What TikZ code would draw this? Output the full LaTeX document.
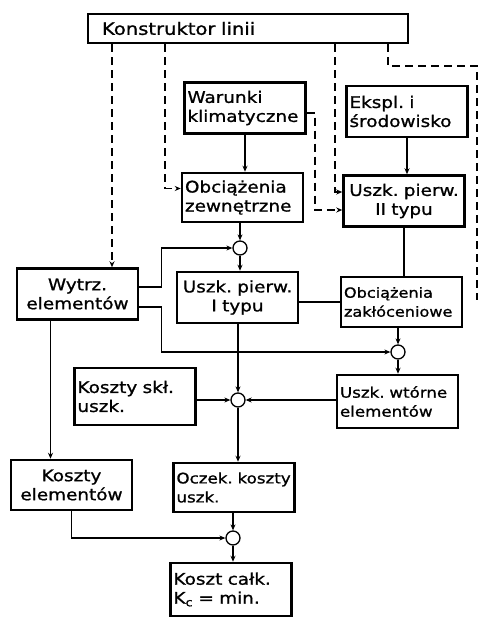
\documentclass[tikz,border=0pt]{standalone}
\usepackage{fontspec}
\setmainfont[FakeStretch=1.15, FakeBold=1]{DejaVu Sans}
\frenchspacing
\usetikzlibrary{arrows.meta}
\tikzset{
  blok/.style={draw, line width=2.5pt, inner sep=3pt, text width=115pt, minimum height=51pt, align=left, font=\fontsize{16}{19}\selectfont},
  kolo/.style={draw, circle, fill=white, line width=1.3pt, minimum size=14pt, inner sep=0pt},
  pol/.style={line width=1.3pt},
  przer/.style={line width=1.7pt, dash pattern=on 8pt off 5pt},
}

\begin{document}
\begin{tikzpicture}[x=1pt, y=-1pt, >={Stealth[length=6pt,width=5pt]}]
\useasboundingbox (0,0) rectangle (479,620);
\node[blok, text width=292pt, inner xsep=14pt, minimum height=29pt, font=\fontsize{17}{20}\selectfont] (konst) at (248,28.5) {Konstruktor linii};
\node[blok] (warunki) at (245,108) {Warunki\\klimatyczne};
\node[blok] (ekspl) at (407,111.5) {Ekspl. i\\środowisko};
\node[blok, minimum height=49pt] (obcz) at (242.5,197.5) {Obciążenia\\zewnętrzne};
\node[blok, align=center] (uszk2) at (404,201) {Uszk. pierw.\\II typu};
\node[blok, align=center] (wytrz) at (77.5,294) {Wytrz.\\elementów};
\node[blok, align=center] (uszk1) at (237.5,297.5) {Uszk. pierw.\\I typu};
\node[blok, minimum height=50pt, font=\fontsize{14}{19}\selectfont] (obzak) at (401.5,302) {Obciążenia\\zakłóceniowe};
\node[blok, minimum height=53pt, font=\fontsize{14.5}{19}\selectfont] (uwt) at (397.5,401.5) {Uszk. wtórne\\elementów};
\node[blok, minimum height=57pt] (kskl) at (135,396.5) {Koszty skł.\\uszk.};
\node[blok, align=center, minimum height=50pt] (kel) at (71.5,485) {Koszty\\elementów};
\node[blok, minimum height=49pt, font=\fontsize{14.5}{19}\selectfont] (oczek) at (234,487.5) {Oczek. koszty\\uszk.};
\node[blok, minimum height=53pt] (kcalk) at (231,589.5) {Koszt całk.\\K\textsubscript{c} = min.};
\node[kolo] (c1) at (240,248) {};
\node[kolo] (c2) at (398,352) {};
\node[kolo] (c3) at (238,400) {};
\node[kolo] (c4) at (233,538) {};
\coordinate (kA) at (112,0);
\coordinate (kB) at (165,0);
\coordinate (kC) at (335,0);
\coordinate (kD) at (388,0);
\coordinate (kE) at (477,66);
\coordinate (kF) at (315,210);
\coordinate (kG) at (477,300);
\draw[przer,->] (konst.south -| kA) -- (wytrz.north -| kA);
\draw[przer,->] (konst.south -| kB) |- ([yshift=9pt]obcz.west);
\draw[przer,->] (konst.south -| kC) |- ([yshift=9pt]uszk2.west);
\draw[przer,->] ([yshift=-5pt]warunki.east) -| (kF) -- (kF -| uszk2.west);
\draw[przer] (konst.south -| kD) |- (kE) -- (kG);
\draw[pol,->] (warunki.south) -- (warunki.south |- obcz.north);
\draw[pol,->] (ekspl.south) -- (ekspl.south |- uszk2.north);
\draw[pol,->] (c1 |- obcz.south) -- (c1);
\draw[pol,->] (c1) -- (c1 |- uszk1.north);
\draw[pol,->] ([yshift=7pt]wytrz.east) -- ++(22,0) |- (c1);
\draw[pol,->] ([yshift=-13pt]wytrz.east) -- ++(22,0) |- (c2);
\draw[pol,->] ([xshift=-27pt]wytrz.south) -- ([xshift=-27pt]wytrz.south |- kel.north);
\draw[pol] (obzak.west -| uszk1.east) -- (obzak.west);
\draw[pol] (uszk2.south) -- (uszk2.south |- obzak.north);
\draw[pol,->] (c2 |- obzak.south) -- (c2);
\draw[pol,->] (c2) -- (c2 |- uwt.north);
\draw[pol,->] (c3 |- uszk1.south) -- (c3);
\draw[pol,->] (kskl.east |- c3) -- (c3);
\draw[pol,->] (uwt.west |- c3) -- (c3);
\draw[pol,->] (c3) -- (c3 |- oczek.north);
\draw[pol,->] (kel.south) |- (c4);
\draw[pol,->] (c4 |- oczek.south) -- (c4);
\draw[pol,->] (c4) -- (c4 |- kcalk.north);
\end{tikzpicture}
\end{document}
